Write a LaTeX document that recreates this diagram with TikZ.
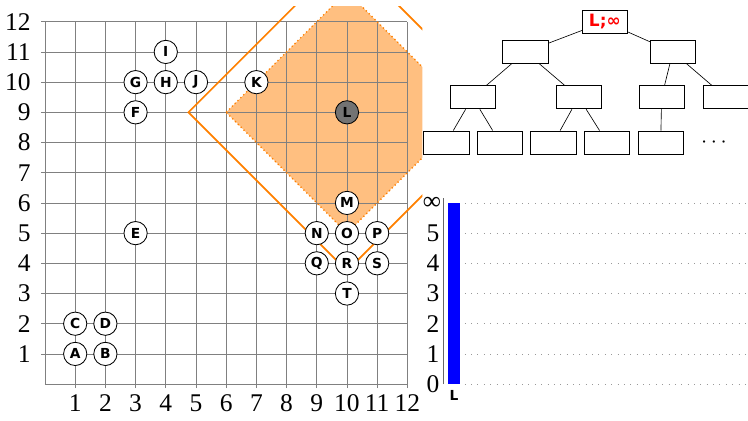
\documentclass[tikz,border=0pt]{standalone}
\usepackage{fontspec}
\setmainfont{Liberation Serif}
\newfontfamily\labelfont{DejaVu Sans}
\usetikzlibrary{positioning}

\begin{document}
\begin{tikzpicture}[
  pt/.style={circle, draw, line width=0.8pt, fill=white, minimum size=0.77cm, inner sep=0pt,
             font=\labelfont\bfseries\fontsize{13}{13}\selectfont},
  box/.style={draw, line width=0.7pt, fill=white, minimum width=1.5cm, minimum height=0.77cm,
              inner sep=0pt},
  edge/.style={line width=0.6pt},
  gridline/.style={black!50, line width=0.7pt},
  num/.style={font=\fontsize{24}{24}\selectfont, inner sep=0pt},
  ball/.style={orange, line width=1.6pt}
]
  \useasboundingbox (-1.49,-1.19) rectangle (23.28,12.72);

  % area round L
  \begin{scope}
    \clip (-1,-1) rectangle (12.5,12.5);
    \fill[orange!50] (6,9) -- (10,13) -- (14,9) -- (10,5) -- cycle;
  \end{scope}

  % grid and axis numbers
  \draw[gridline] (0,0) grid (12,12);
  \foreach \i in {1,...,12} {
    \draw[gridline] (\i,-0.13) -- (\i,0);
    \draw[gridline] (-0.13,\i) -- (0,\i);
    \node[num, anchor=base] (x\i) at (\i,-0.9) {\i};
    \node[num, anchor=base east] (y\i) at (-0.47,\i-0.28) {\i};
  }

  \begin{scope}
    \clip (-1,-1) rectangle (12.5,12.5);
    \draw[orange, line width=1.3pt, dash pattern=on 1.2pt off 2.6pt]
      (6,9) -- (10,13) -- (14,9) -- (10,5) -- cycle;
    \draw[ball] (4.75,9) -- (10,14.25) -- (15.25,9) -- (10,3.75) -- cycle;
  \end{scope}

  % points
  \node[pt] (A) at (1,1) {A};
  \node[pt] (B) at (2,1) {B};
  \node[pt] (C) at (1,2) {C};
  \node[pt] (D) at (2,2) {D};
  \node[pt] (E) at (3,5) {E};
  \node[pt] (F) at (3,9) {F};
  \node[pt] (G) at (3,10) {G};
  \node[pt] (H) at (4,10) {H};
  \node[pt] (I) at (4,11) {I};
  \node[pt] (J) at (5,10) {J};
  \node[pt] (K) at (7,10) {K};
  \node[pt, fill=black!55] (L) at (10,9) {L};
  \node[pt] (M) at (10,6) {M};
  \node[pt] (N) at (9,5) {N};
  \node[pt] (O) at (10,5) {O};
  \node[pt] (P) at (11,5) {P};
  \node[pt] (Q) at (9,4) {Q};
  \node[pt] (R) at (10,4) {R};
  \node[pt] (S) at (11,4) {S};
  \node[pt] (T) at (10,3) {T};

  % bar chart
  \foreach \j in {0,...,6}
    \draw[black!40, line width=0.6pt, dash pattern=on 0.6pt off 5.4pt] (13.9,\j) -- (23.28,\j);
  \draw[black!60, line width=0.8pt] (13.21,0) -- (13.21,6.16);
  \foreach \j in {0,...,5}
    \node[num, anchor=base east] (v\j) at (13.07,\j-0.28) {\j};
  \node[num, anchor=base east] (vinf) at (13.12,5.77) {∞};
  \node[fill=blue, minimum width=0.39cm, minimum height=6cm, inner sep=0pt, anchor=south]
    (bar) at (13.545,0) {};
  \node[font=\labelfont\bfseries\fontsize{13}{13}\selectfont, below=0.1cm of bar] (barL) {L};

  % tree
  \node[box, text=red, font=\labelfont\bfseries\fontsize{16}{16}\selectfont] (root) at (18.54,12) {L;∞};
  \node[box] (left)  at (15.91,11) {};
  \node[box] (right) at (20.79,11) {};
  \node[box] (ll) at (14.16,9.5) {};
  \node[box] (lr) at (17.67,9.5) {};
  \node[box] (rl) at (20.42,9.5) {};
  \node[box] (rr) at (22.54,9.5) {};
  \node[box] (lll) at (13.29,8) {};
  \node[box] (llr) [right=0.25cm of lll] {};
  \node[box] (lrl) [right=0.25cm of llr] {};
  \node[box] (lrr) [right=0.25cm of lrl] {};
  \node[box] (rll) [right=0.25cm of lrr] {};
  \node[font=\fontsize{20}{20}\selectfont] (more) at (22.15,8) {$\cdots$};

  \draw[edge] (root)  -- (left);
  \draw[edge] (root)  -- (right);
  \draw[edge] (left)  -- (ll);
  \draw[edge] (left)  -- (lr);
  \draw[edge] (right) -- (rl);
  \draw[edge] (right) -- (rr);
  \draw[edge] (ll)    -- (lll);
  \draw[edge] (ll)    -- (llr);
  \draw[edge] (lr)    -- (lrl);
  \draw[edge] (lr)    -- (lrr);
  \draw[edge] (rl)    -- (rll);
\end{tikzpicture}
\end{document}
